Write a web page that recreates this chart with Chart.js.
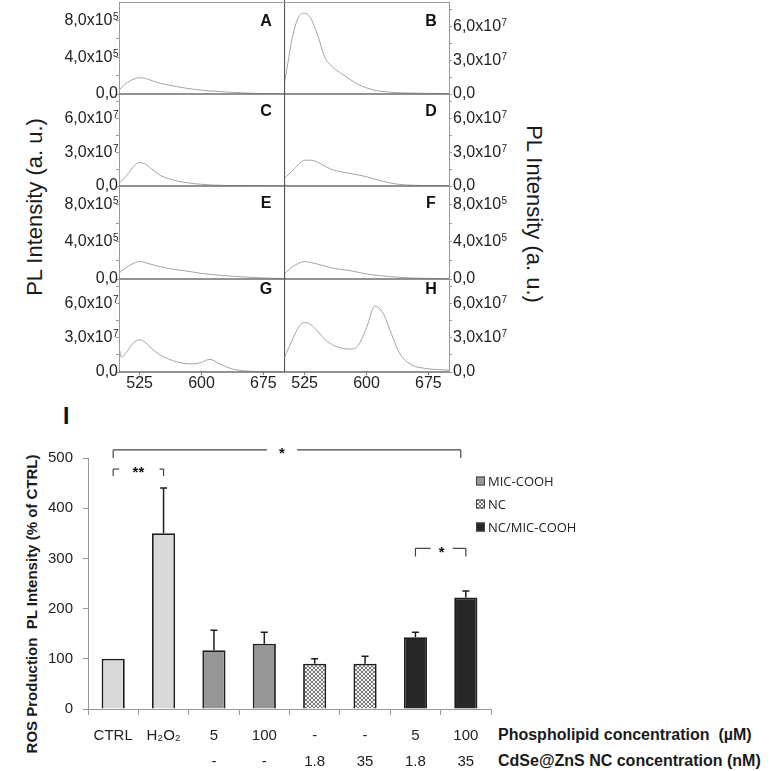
<!DOCTYPE html>
<html>
<head>
<meta charset="utf-8">
<script src="https://cdn.jsdelivr.net/npm/chart.js@4.4.1/dist/chart.umd.min.js"></script>
<style>
  html, body { margin: 0; padding: 0; background: #fff; }
  #wrap { position: relative; width: 773px; height: 771px; overflow: hidden; }
  canvas { position: absolute; }
  .lbl { position: absolute; white-space: pre; color: #1a1a1a; font-family: "Liberation Sans", Arial, sans-serif; }
  .rot { transform: translate(-50%, -50%) rotate(-90deg); }
  .rotR { transform: translate(-50%, -50%) rotate(90deg); }
</style>
</head>
<body>
<div id="wrap">
  <div class="lbl rot" style="left:35px; top:207px; font-size:22px;">PL Intensity (a. u.)</div>
  <div class="lbl rotR" style="left:534px; top:214px; font-size:22px;">PL Intensity (a. u.)</div>
  <div class="lbl" style="left:63px; top:403px; font-size:23px; font-weight:bold; color:#111;">I</div>
  <div class="lbl rot" style="left:31px; top:604px; font-size:15px; font-weight:bold;">ROS Production  PL Intensity (% of CTRL)</div>
  <div class="lbl" style="left:498px; top:726px; font-size:16px; font-weight:bold;">Phospholipid concentration  (µM)</div>
  <div class="lbl" style="left:498px; top:752px; font-size:16px; font-weight:bold;">CdSe@ZnS NC concentration (nM)</div>
  <canvas id="ros" width="773" height="381" style="left:0; top:390px;"></canvas>
</div>
<script>
// PL spectra, wavelength in nm
const wavelength = [500, 503, 510, 518, 525, 532, 540, 550, 560, 570, 580, 590, 600, 610, 620, 630, 640, 655, 670, 685, 700];
// A, E, F in units of 1e5 ; B, C, D, G, H in units of 1e7
const specA = [0.45, 0.7, 1.25, 1.62, 1.77, 1.7, 1.45, 1.16, 0.97, 0.8, 0.65, 0.52, 0.42, 0.34, 0.28, 0.22, 0.17, 0.1, 0.05, 0.03, 0.02];
const specB = [0.8, 2.0, 5.0, 6.9, 7.2, 6.8, 5.4, 3.2, 2.35, 1.8, 1.3, 0.85, 0.55, 0.33, 0.22, 0.15, 0.11, 0.08, 0.06, 0.05, 0.04];
const specC = [0.27, 0.45, 1.0, 1.78, 2.08, 1.95, 1.5, 0.95, 0.65, 0.45, 0.32, 0.22, 0.15, 0.1, 0.07, 0.05, 0.04, 0.03, 0.02, 0.02, 0.01];
const specD = [0.62, 0.85, 1.35, 1.95, 2.3, 2.3, 2.15, 1.75, 1.42, 1.25, 1.12, 0.98, 0.83, 0.62, 0.42, 0.25, 0.14, 0.07, 0.04, 0.03, 0.02];
const specE = [0.62, 0.85, 1.3, 1.7, 1.88, 1.75, 1.55, 1.32, 1.13, 1.0, 0.88, 0.74, 0.6, 0.5, 0.42, 0.35, 0.28, 0.2, 0.13, 0.08, 0.05];
const specF = [0.5, 0.75, 1.3, 1.7, 1.88, 1.78, 1.62, 1.38, 1.15, 1.02, 0.9, 0.72, 0.54, 0.42, 0.33, 0.25, 0.18, 0.11, 0.07, 0.04, 0.03];
const specG = [2.2, 1.3, 1.85, 2.6, 2.85, 2.6, 2.05, 1.5, 1.15, 0.9, 0.75, 0.72, 0.85, 1.12, 0.8, 0.45, 0.22, 0.08, 0.04, 0.02, 0.02];
const specH = [1.25, 1.7, 2.8, 4.0, 4.37, 4.2, 3.65, 2.85, 2.35, 2.1, 2.02, 2.35, 3.9, 5.8, 5.2, 3.4, 1.66, 0.62, 0.33, 0.22, 0.16];

const xTicks = [525, 600, 675];
const ticksE5 = [0, 4e5, 8e5];
const labelsE5 = ['0,0', '4,0x10', '8,0x10'];
const expE5 = ['', '5', '5'];
const minorE5 = [2e5, 6e5];
const ticksE7 = [0, 3e7, 6e7];
const labelsE7 = ['0,0', '3,0x10', '6,0x10'];
const expE7 = ['', '7', '7'];
const minorE7 = [1.5e7, 4.5e7, 7.5e7];

// ROS production bar chart
const phospholipid = ['CTRL', 'H₂O₂', '5', '100', '-', '-', '5', '100'];
const ncConc = ['', '', '-', '-', '1.8', '35', '1.8', '35'];
const rosMean = [100, 350, 117, 130, 90, 90, 143, 222];
const rosErr = [0, 90, 40, 23, 10, 15, 10, 13];
const legendNames = ['MIC-COOH', 'NC', 'NC/MIC-COOH'];

const FONT = '"Liberation Sans", Arial, sans-serif';
Chart.defaults.font.family = FONT;
Chart.defaults.color = '#222';

const panels = [
  { letter: 'A', vals: specA, unit: 1e5, col: 0, row: 0, dy: 20 },
  { letter: 'B', vals: specB, unit: 1e7, col: 1, row: 0, dy: 20 },
  { letter: 'C', vals: specC, unit: 1e7, col: 0, row: 1, dy: 18 },
  { letter: 'D', vals: specD, unit: 1e7, col: 1, row: 1, dy: 18 },
  { letter: 'E', vals: specE, unit: 1e5, col: 0, row: 2, dy: 18 },
  { letter: 'F', vals: specF, unit: 1e5, col: 1, row: 2, dy: 18 },
  { letter: 'G', vals: specG, unit: 1e7, col: 0, row: 3, dy: 11 },
  { letter: 'H', vals: specH, unit: 1e7, col: 1, row: 3, dy: 11 }
];
const rowTop = [2, 94, 186, 279];
const rowBot = [94, 186, 279, 372];
const PAD = 14;

const framePlugin = {
  id: 'frame',
  afterDraw(chart, args, o) {
    const { ctx, chartArea: a } = chart;
    const ys = chart.scales.y;
    ctx.save();
    ctx.lineWidth = 1.5;
    ctx.strokeStyle = '#6e6e6e';
    ctx.beginPath();
    ctx.moveTo(a.left, a.bottom);
    ctx.lineTo(a.right, a.bottom);
    ctx.stroke();
    if (o.divider) {
      ctx.lineWidth = 1.2;
      ctx.strokeStyle = '#555';
      ctx.beginPath();
      ctx.moveTo(a.left + 0.5, a.top - 2);
      ctx.lineTo(a.left + 0.5, a.bottom);
      ctx.stroke();
    }
    if (o.topLine) {
      ctx.lineWidth = 1;
      ctx.strokeStyle = '#999';
      ctx.beginPath();
      ctx.moveTo(a.left, a.top + 0.5);
      ctx.lineTo(a.right, a.top + 0.5);
      ctx.stroke();
    }
    // panel letter
    ctx.fillStyle = '#111';
    ctx.font = 'bold 16px ' + FONT;
    ctx.textAlign = 'center';
    ctx.textBaseline = 'middle';
    ctx.fillText(o.letter, a.right - 18, a.top + o.dy);
    // y tick labels with raised exponent
    ctx.fillStyle = '#222';
    ctx.textAlign = 'left';
    o.major.forEach((v, k) => {
      const y = ys.getPixelForValue(v);
      ctx.font = '16px ' + FONT;
      const mw = ctx.measureText(o.labels[k]).width;
      ctx.font = '10px ' + FONT;
      const ew = o.exps[k] ? ctx.measureText(o.exps[k]).width : 0;
      const x0 = o.right ? a.right + 4 : a.left - 1 - mw - ew;
      ctx.font = '16px ' + FONT;
      ctx.textBaseline = 'middle';
      ctx.fillText(o.labels[k], x0, y);
      if (o.exps[k]) {
        ctx.font = '10px ' + FONT;
        ctx.textBaseline = 'alphabetic';
        ctx.fillText(o.exps[k], x0 + mw + 0.5, y - 0.5);
      }
    });
    ctx.restore();
  }
};

panels.forEach(p => {
  const wrap = document.getElementById('wrap');
  const cv = document.createElement('canvas');
  const bottomRow = p.row === 3;
  const plotH = rowBot[p.row] - rowTop[p.row];
  const w = p.col ? 489 : 284;
  const h = PAD + plotH + (bottomRow ? 26 : PAD);
  cv.width = w; cv.height = h;
  cv.style.left = (p.col ? 284 : 0) + 'px';
  cv.style.top = (rowTop[p.row] - PAD) + 'px';
  wrap.appendChild(cv);

  const e5 = p.unit === 1e5;
  const major = e5 ? ticksE5 : ticksE7;
  const minor = e5 ? minorE5 : minorE7;
  const ymax = e5 ? 1e6 : 8.2e7;

  new Chart(cv, {
    type: 'line',
    data: {
      datasets: [{
        data: wavelength.map((wl, i) => ({ x: wl, y: p.vals[i] * p.unit })),
        borderColor: '#a3a3a3',
        borderWidth: 1,
        pointRadius: 0,
        fill: false,
        cubicInterpolationMode: 'monotone'
      }]
    },
    options: {
      responsive: false,
      animation: false,
      devicePixelRatio: 1,
      layout: { padding: { top: PAD, bottom: bottomRow ? 0 : PAD, left: 0, right: 0 } },
      plugins: {
        legend: { display: false },
        tooltip: { enabled: false },
        frame: {
          letter: p.letter, dy: p.dy, divider: p.col === 1, topLine: p.row === 0, right: p.col === 1,
          major: major, labels: e5 ? labelsE5 : labelsE7, exps: e5 ? expE5 : expE7
        }
      },
      scales: {
        x: {
          type: 'linear', min: 500, max: 700,
          display: bottomRow,
          afterBuildTicks: s => { s.ticks = xTicks.map(v => ({ value: v })); },
          afterFit: s => { if (bottomRow) s.height = 26; },
          ticks: { font: { size: 16, lineHeight: 1 }, color: '#222', padding: 1, maxRotation: 0, autoSkip: false },
          grid: { drawOnChartArea: false, tickLength: 3, color: '#777' },
          border: { display: false }
        },
        y: {
          position: p.col ? 'right' : 'left',
          min: 0, max: ymax,
          afterBuildTicks: s => {
            s.ticks = major.concat(minor).sort((a, b) => a - b).map(v => ({ value: v }));
          },
          afterFit: s => { s.width = p.col ? 489 - 165 : 119; },
          ticks: { display: false },
          grid: { drawOnChartArea: false, tickLength: 3, color: '#999' },
          border: { color: '#999' }
        }
      }
    },
    plugins: [framePlugin]
  });
});

// ---- bar chart ----
function makeHatch() {
  const c = document.createElement('canvas');
  c.width = 4; c.height = 4;
  const g = c.getContext('2d');
  g.fillStyle = '#f2f2f2';
  g.fillRect(0, 0, 4, 4);
  g.fillStyle = '#7a7a7a';
  [[0, 0], [1, 1], [2, 2], [3, 3], [0, 3], [1, 2], [2, 1], [3, 0]].forEach(([x, y]) => g.fillRect(x, y, 1, 1));
  return g.createPattern(c, 'repeat');
}
const hatch = makeHatch();
const cLight = '#d9d9d9', cMid = '#969696', cDark = '#272727';
const barFill = [cLight, cLight, cMid, cMid, hatch, hatch, cDark, cDark];
const legendFill = [cMid, hatch, cDark];

const rosPlugin = {
  id: 'rosExtras',
  afterDatasetsDraw(chart) {
    const { ctx, chartArea: a } = chart;
    const xs = chart.scales.x, ys = chart.scales.y;
    const meta = chart.getDatasetMeta(0);
    ctx.save();
    // error bars
    ctx.strokeStyle = '#1e1e1e';
    ctx.lineWidth = 1.5;
    rosMean.forEach((m, i) => {
      if (!rosErr[i]) return;
      const x = meta.data[i].x;
      const y0 = ys.getPixelForValue(m);
      const y1 = ys.getPixelForValue(m + rosErr[i]);
      ctx.beginPath();
      ctx.moveTo(x, y0); ctx.lineTo(x, y1);
      ctx.moveTo(x - 3.5, y1); ctx.lineTo(x + 3.5, y1);
      ctx.stroke();
    });
    // significance brackets
    ctx.strokeStyle = '#444';
    ctx.lineWidth = 1.2;
    ctx.fillStyle = '#111';
    ctx.font = 'bold 15px ' + FONT;
    ctx.textAlign = 'center';
    ctx.textBaseline = 'middle';
    const seg = (x0, y0, x1, y1) => { ctx.beginPath(); ctx.moveTo(x0, y0); ctx.lineTo(x1, y1); ctx.stroke(); };
    // CTRL vs NC/MIC-COOH 100
    let yl = ys.getPixelForValue(516), yt = ys.getPixelForValue(500);
    let xl = xs.getPixelForValue(0), xr = xs.getPixelForValue(6.9), xm = xs.getPixelForValue(3.35);
    seg(xl, yt, xl, yl); seg(xl, yl, xm - 15, yl); seg(xm + 15, yl, xr, yl); seg(xr, yl, xr, yt);
    ctx.fillText('*', xm, yl + 4);
    // CTRL vs H2O2
    yl = ys.getPixelForValue(478); yt = ys.getPixelForValue(464);
    xl = xs.getPixelForValue(0); xr = xs.getPixelForValue(1); xm = xs.getPixelForValue(0.5);
    seg(xl, yt, xl, yl); seg(xl, yl, xl + 6, yl); seg(xr - 4, yl, xr, yl); seg(xr, yl, xr, yt);
    ctx.fillText('**', xm, yl + 4);
    // NC/MIC-COOH 5 vs 100
    yl = ys.getPixelForValue(320); yt = ys.getPixelForValue(304);
    xl = xs.getPixelForValue(6); xr = xs.getPixelForValue(7); xm = xs.getPixelForValue(6.5);
    seg(xl, yt, xl, yl); seg(xl, yl, xm - 10, yl); seg(xm + 12, yl, xr, yl); seg(xr, yl, xr, yt);
    ctx.fillText('*', xm + 1, yl + 4);
    // legend
    ctx.font = '13px "Open Sans", sans-serif';
    ctx.textAlign = 'left';
    ctx.lineWidth = 1;
    legendNames.forEach((name, i) => {
      const y = a.top + 23 + i * 23;
      const x = a.right - 15;
      ctx.fillStyle = legendFill[i];
      ctx.fillRect(x, y - 4.5, 9, 9);
      ctx.strokeStyle = '#444';
      ctx.strokeRect(x + 0.5, y - 4, 8, 8);
      ctx.fillStyle = '#222';
      ctx.fillText(name, x + 12, y + 1);
    });
    ctx.restore();
  }
};

new Chart(document.getElementById('ros'), {
  type: 'bar',
  data: {
    labels: phospholipid.map((g, i) => [g, ncConc[i]]),
    datasets: [{
      data: rosMean,
      backgroundColor: barFill,
      borderColor: '#1e1e1e',
      borderWidth: 1.8,
      barPercentage: 0.46,
      categoryPercentage: 1
    }]
  },
  options: {
    responsive: false,
    animation: false,
    devicePixelRatio: 1,
    layout: { padding: { top: 68, right: 282, left: 0, bottom: 0 } },
    plugins: { legend: { display: false }, tooltip: { enabled: false } },
    scales: {
      x: {
        afterFit: s => { s.height = 62; },
        ticks: { font: { size: 15, lineHeight: 26 / 15 }, color: '#222', padding: 8, maxRotation: 0, autoSkip: false },
        grid: { offset: true, drawOnChartArea: false, tickLength: 6, color: '#999' },
        border: { color: '#999' }
      },
      y: {
        min: 0, max: 500,
        afterFit: s => { s.width = 88; },
        ticks: { stepSize: 100, font: { size: 15 }, color: '#222', padding: 10 },
        grid: { drawOnChartArea: false, tickLength: 5, color: '#999' },
        border: { color: '#999' }
      }
    }
  },
  plugins: [rosPlugin]
});
</script>
</body>
</html>
